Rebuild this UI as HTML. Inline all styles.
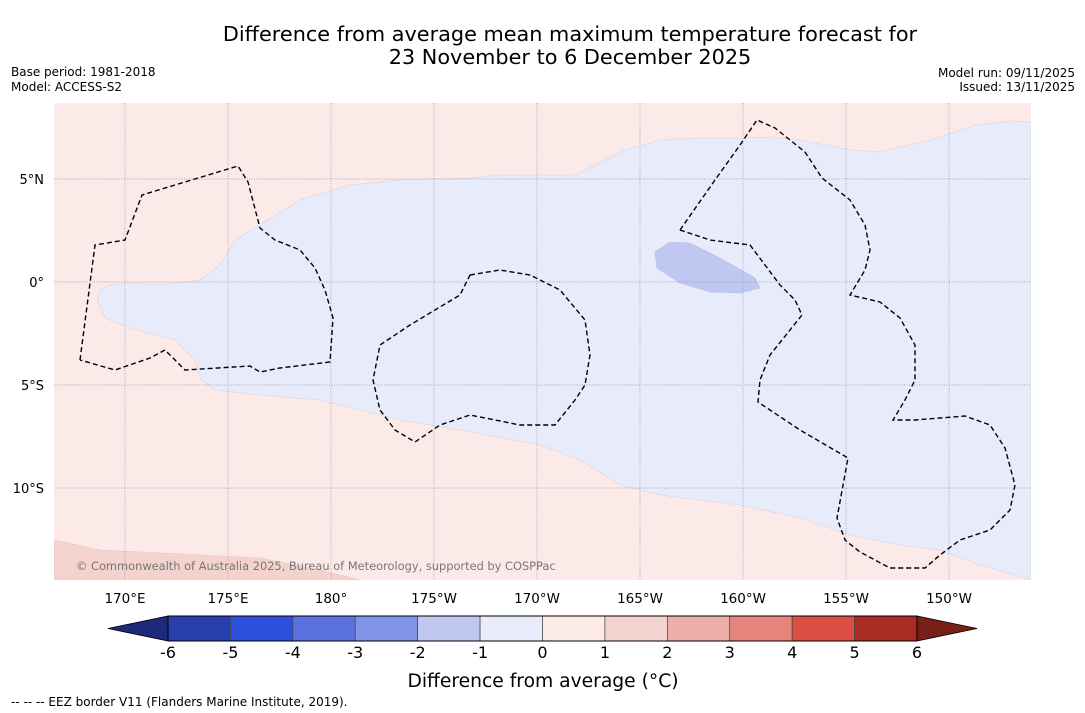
<!DOCTYPE html>
<html><head><meta charset="utf-8"><style>
body{margin:0;background:#fff;font-family:"DejaVu Sans","Liberation Sans",sans-serif;}
svg{display:block}
</style></head><body>
<svg id="chart" width="1085" height="713" viewBox="0 0 1085 713" font-family="DejaVu Sans, Liberation Sans, sans-serif">
<text x="570" y="41" font-size="20.8" text-anchor="middle">Difference from average mean maximum temperature forecast for</text>
<text x="570" y="64" font-size="20.8" text-anchor="middle">23 November to 6 December 2025</text>
<text x="11" y="76" font-size="12">Base period: 1981-2018</text>
<text x="11" y="91" font-size="12">Model: ACCESS-S2</text>
<text x="1075" y="77" font-size="12" text-anchor="end">Model run: 09/11/2025</text>
<text x="1075" y="91" font-size="12" text-anchor="end">Issued: 13/11/2025</text>
<g id="map"></g>
<g id="cbar"></g>
<text x="543" y="687" font-size="18.7" text-anchor="middle">Difference from average (°C)</text>
<text x="11" y="706" font-size="12">--  --  -- EEZ border V11 (Flanders Marine Institute, 2019).</text>
</svg>
<script>
const lonTicks=[170,175,180,185,190,195,200,205,210];
const lonLabels=["170°E","175°E","180°","175°W","170°W","165°W","160°W","155°W","150°W"];
const latTicks=[5,0,-5,-10];
const latLabels=["5°N","0°","5°S","10°S"];
const levels=[-6,-5,-4,-3,-2,-1,0,1,2,3,4,5,6];
const levelColors=["#283fae","#2f4fde","#5a72e0","#8294e8","#c0c8f2","#e8ebfa","#fbeae8","#f4d3cf","#edaea9","#e6857e","#dc4d43","#a92b24"];
const underColor="#1d2a7a", overColor="#7a1e18";
function P(pts){return pts.map(p=>[170+(p[0]-125)/20.6,(282-p[1])/20.6]);}
const coolRegion=P([[100,290],[97,300],[105,318],[130,328],[175,340],[195,360],[200,378],[215,390],[260,395],[320,400],[360,410],[400,420],[460,430],[540,445],[580,460],[620,485],[660,495],[740,505],[800,518],[850,535],[900,545],[940,550],[980,565],[1025,578],[1031,580],[1031,122],[1010,121],[975,125],[930,140],[880,152],[850,150],[800,140],[770,137],[740,138],[700,138],[660,140],[625,150],[595,165],[575,175],[540,175],[500,175],[470,178],[400,180],[350,185],[300,200],[260,225],[235,240],[220,265],[200,280],[160,285],[130,283],[110,285]]);
const coolerBlob=P([[655,252],[670,242],[690,243],[720,258],[755,278],[760,288],[740,293],[710,292],[680,283],[657,268]]);
const warmBlob=P([[54,540],[100,550],[200,555],[260,558],[320,570],[360,580],[54,580]]);
const eez1=P([[80,360],[95,245],[125,240],[142,195],[175,185],[238,166],[248,182],[260,228],[275,240],[300,250],[315,268],[325,290],[333,318],[330,362],[280,368],[260,372],[250,366],[185,370],[165,350],[150,358],[115,370],[80,360]]);
const eez2=P([[470,275],[500,270],[530,275],[560,290],[585,320],[590,355],[585,385],[575,400],[555,425],[520,425],[470,415],[440,425],[415,442],[395,430],[380,410],[373,380],[380,345],[410,325],[460,295],[470,275]]);
const eez3=P([[680,230],[715,180],[740,145],[757,120],[775,128],[805,152],[822,178],[850,200],[865,225],[870,250],[865,270],[850,295],[880,302],[900,318],[915,345],[915,380],[905,400],[893,420],[915,420],[940,418],[965,416],[990,425],[1005,448],[1015,485],[1010,510],[990,530],[960,540],[940,555],[925,568],[890,568],[860,552],[845,540],[837,518],[848,458],[800,430],[758,402],[760,380],[770,355],[790,330],[802,315],[795,300],[780,285],[765,265],[750,245],[710,240],[680,230]]);
const NS="http://www.w3.org/2000/svg";
const X=lon=>125+(lon-170)*20.6, Y=lat=>282-lat*20.6;
const x0=54,x1=1031,y0=103,y1=580;
function el(t,a,p){const e=document.createElementNS(NS,t);for(const k in a)e.setAttribute(k,a[k]);p.appendChild(e);return e;}
const map=document.getElementById('map');
const defs=el('defs',{},map);const cp=el('clipPath',{id:'clip'},defs);el('rect',{x:x0,y:y0,width:x1-x0,height:y1-y0},cp);
const bg=el('rect',{x:x0,y:y0,width:x1-x0,height:y1-y0,fill:'#fbeae8'},map);


const g=el('g',{'clip-path':'url(#clip)'},map);
const pts=a=>a.map(p=>X(p[0]).toFixed(1)+','+Y(p[1]).toFixed(1)).join(' ');
const r1=el('polygon',{points:pts(warmBlob),fill:'#f4d3cf',stroke:'#eec4c0','stroke-width':0.6},g);


const r2=el('polygon',{points:pts(coolRegion),fill:'#e8ebfa',stroke:'#d8d2e0','stroke-width':0.6},g);


const r3=el('polygon',{points:pts(coolerBlob),fill:'#c0c8f2',stroke:'#b8bde8','stroke-width':0.6},g);


lonTicks.forEach((l,i)=>{
 const ln=el('line',{x1:X(l),x2:X(l),y1:y0,y2:y1,stroke:'#8a8fa8','stroke-width':0.7,'stroke-dasharray':'1,1.5'},g);
 
 
 const t=el('text',{x:X(l),y:603,'font-size':13.5,'text-anchor':'middle'},map);t.textContent=lonLabels[i];
 
 
});
latTicks.forEach((l,i)=>{
 const ln=el('line',{x1:x0,x2:x1,y1:Y(l),y2:Y(l),stroke:'#8a8fa8','stroke-width':0.7,'stroke-dasharray':'1,1.5'},g);
 
 
 const t=el('text',{x:44,y:Y(l)+5,'font-size':13,'text-anchor':'end'},map);t.textContent=latLabels[i];
 
 
});
[eez1,eez2,eez3].forEach(a=>{
 const p=el('polyline',{points:pts(a),fill:'none',stroke:'#000','stroke-width':1.4,'stroke-dasharray':'5,3'},g);
 
 
});
const cr=el('text',{x:76,y:570,'font-size':11.4,fill:'#777'},map);cr.textContent='© Commonwealth of Australia 2025, Bureau of Meteorology, supported by COSPPac';


const cb=document.getElementById('cbar');
const cx0=168,cx1=917,cy0=616,cy1=641;
const CX=v=>cx0+(v-levels[0])/(levels[levels.length-1]-levels[0])*(cx1-cx0);
const u=el('polygon',{points:`${cx0},${cy0} ${cx0},${cy1} 108,${(cy0+cy1)/2}`,fill:underColor,stroke:'#000','stroke-width':0.8},cb);


const o=el('polygon',{points:`${cx1},${cy0} ${cx1},${cy1} 977,${(cy0+cy1)/2}`,fill:overColor,stroke:'#000','stroke-width':0.8},cb);


levelColors.forEach((c,i)=>{
 const r=el('rect',{x:CX(levels[i]),y:cy0,width:CX(levels[i+1])-CX(levels[i]),height:cy1-cy0,fill:c,stroke:'#444','stroke-width':0.7},cb);
 
 
});
el('rect',{x:cx0,y:cy0,width:cx1-cx0,height:cy1-cy0,fill:'none',stroke:'#000','stroke-width':1},cb);
levels.forEach(v=>{
 const t=el('text',{x:CX(v),y:658,'font-size':16,'text-anchor':'middle'},cb);t.textContent=String(v);
 
 
});
</script>
</body></html>
